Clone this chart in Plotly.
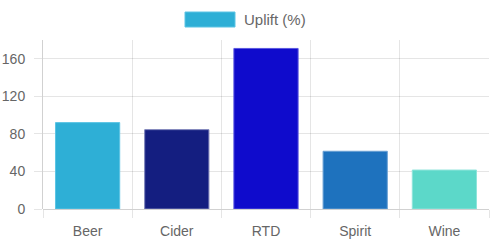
import plotly.graph_objects as go

categories = ["Beer", "Cider", "RTD", "Spirit", "Wine"]
uplift = [92, 84.5, 171, 61.5, 41.5]
colors = ["#2eafd6", "#141e80", "#0f0bcc", "#1e72be", "#5cd8c9"]
border_colors = ["#5cc4e4", "#7b80b8", "#5a57e0", "#6aa0d4", "#8ee4da"]
y_ticks = [0, 40, 80, 120, 160]
series_name = "Uplift (%)"

W, H = 490, 245
ml, mr, mt, mb = 43, 1, 40, 36
font_fam = "Liberation Sans, Arial, Helvetica, sans-serif"
grid = "rgba(0,0,0,0.1)"
txt = "#666666"

idx = list(range(len(categories)))

fig = go.Figure()
fig.add_trace(go.Bar(
    x=categories, y=uplift, name=series_name,
    marker=dict(color=colors, line=dict(color=border_colors, width=1)),
    width=0.72, showlegend=False, hoverinfo="skip",
))
# invisible trace on overlay axis to enable the boundary grid
fig.add_trace(go.Scatter(x=[-0.5, len(categories) - 0.5], y=[0, 0], xaxis="x2",
                         mode="markers", marker=dict(opacity=0), showlegend=False,
                         hoverinfo="skip"))

fig.update_layout(
    width=W, height=H,
    margin=dict(l=ml, r=mr, t=mt, b=mb),
    paper_bgcolor="white", plot_bgcolor="white",
    font=dict(family=font_fam, size=14, color=txt),
    xaxis=dict(
        type="category", range=[-0.5, len(categories) - 0.5],
        showgrid=False, zeroline=False, showline=False,
        ticks="outside", ticklen=9, tickcolor="rgba(0,0,0,0)",
        tickfont=dict(size=14, color=txt),
    ),
    xaxis2=dict(
        overlaying="x", side="bottom", range=[-0.5, len(categories) - 0.5],
        tickvals=[i - 0.5 for i in idx] + [len(categories) - 0.5],
        showticklabels=False, showgrid=True, gridcolor=grid, gridwidth=1,
        ticks="outside", ticklen=8, tickcolor=grid, zeroline=False, showline=False,
    ),
    yaxis=dict(
        range=[0, 180], tickvals=y_ticks,
        showgrid=True, gridcolor=grid, gridwidth=1,
        zeroline=True, zerolinecolor="rgba(0,0,0,0.18)", zerolinewidth=1,
        ticks="outside", ticklen=8, tickcolor=grid,
        ticklabelstandoff=6,
        showline=True, linecolor="rgba(0,0,0,0.18)", linewidth=1,
        tickfont=dict(size=14, color=txt),
    ),
    bargap=0.28,
    showlegend=False,
)

# custom Chart.js-style legend
pw = W - ml - mr
ph = H - mt - mb
def px2x(px):
    return (px - ml) / pw
def py2y(py):
    return (H - mb - py) / ph

fig.add_shape(type="rect", xref="paper", yref="paper",
              x0=px2x(185), x1=px2x(235), y0=py2y(27), y1=py2y(12),
              fillcolor=colors[0], line=dict(color=border_colors[0], width=1))
fig.add_annotation(xref="paper", yref="paper", x=px2x(242), y=py2y(19.5),
                   text=series_name, showarrow=False, xanchor="left", yanchor="middle",
                   font=dict(size=15, color=txt, family=font_fam))

fig.write_html("out.html")
